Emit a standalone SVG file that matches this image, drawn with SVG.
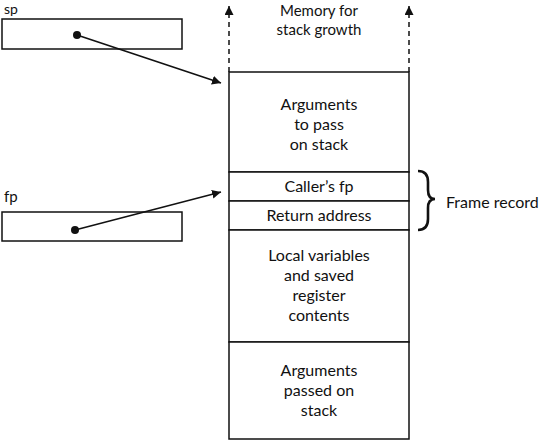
<svg xmlns="http://www.w3.org/2000/svg" width="542" height="442" viewBox="0 0 542 442">
<style>
text{font-family:"Lato","DejaVu Sans",sans-serif;font-size:16px;fill:#111}
.c{text-anchor:middle}
.sm{font-size:15px}
.box{fill:#fff;stroke:#111;stroke-width:1.5}
.ln{stroke:#111;stroke-width:1.5;fill:none}
.dash{stroke:#111;stroke-width:1.5;fill:none;stroke-dasharray:5,4}
</style>
<defs>
<marker id="ah" viewBox="0 0 10 10" refX="10" refY="5" markerWidth="9" markerHeight="9" markerUnits="userSpaceOnUse" orient="auto"><path d="M0,0L10,5L0,10z" fill="#111"/></marker>
</defs>
<rect width="542" height="442" fill="#fff"/>
<g id="sp">
<text x="4" y="14" style="font-size:14px">sp</text>
<rect class="box" x="2" y="19" width="180" height="30"/>
</g>
<g id="fp">
<text class="sm" x="4" y="202">fp</text>
<rect class="box" x="2" y="212" width="180" height="29"/>
</g>
<g id="stack-growth">
<text class="c sm" x="319" y="16">Memory for</text>
<text class="c sm" x="319" y="35">stack growth</text>
</g>
<g id="args-to-pass">
<rect class="box" x="229" y="72" width="180" height="100"/>
<text class="c" x="319" y="110">Arguments</text>
<text class="c" x="319" y="130">to pass</text>
<text class="c" x="319" y="150">on stack</text>
</g>
<g id="callers-fp">
<rect class="box" x="229" y="172" width="180" height="29"/>
<text class="c" x="319" y="192">Caller’s fp</text>
</g>
<g id="return-address">
<rect class="box" x="229" y="201" width="180" height="29"/>
<text class="c" x="319" y="221">Return address</text>
</g>
<g id="locals">
<rect class="box" x="229" y="230" width="180" height="112"/>
<text class="c" x="319" y="261">Local variables</text>
<text class="c" x="319" y="281">and saved</text>
<text class="c" x="319" y="301">register</text>
<text class="c" x="319" y="321">contents</text>
</g>
<g id="args-passed">
<rect class="box" x="229" y="342" width="180" height="97"/>
<text class="c" x="319" y="376">Arguments</text>
<text class="c" x="319" y="396">passed on</text>
<text class="c" x="319" y="416">stack</text>
</g>
<g id="frame-record">
<path d="M418,171 Q428,171 428,182 L428,190 Q428,199 435,199 Q428,199 428,208 L428,219 Q428,230 418,230" fill="none" stroke="#111" stroke-width="2.6"/>
<text x="446" y="208">Frame record</text>
</g>
<g id="connectors">
<circle cx="77" cy="35" r="4" fill="#111"/>
<line class="ln" x1="77" y1="35" x2="221" y2="83" marker-end="url(#ah)"/>
<circle cx="75" cy="230" r="4" fill="#111"/>
<line class="ln" x1="75" y1="230" x2="221" y2="192" marker-end="url(#ah)"/>
<line class="dash" x1="229" y1="72" x2="229" y2="6" marker-end="url(#ah)"/>
<line class="dash" x1="409" y1="72" x2="409" y2="6" marker-end="url(#ah)"/>
</g>
</svg>
